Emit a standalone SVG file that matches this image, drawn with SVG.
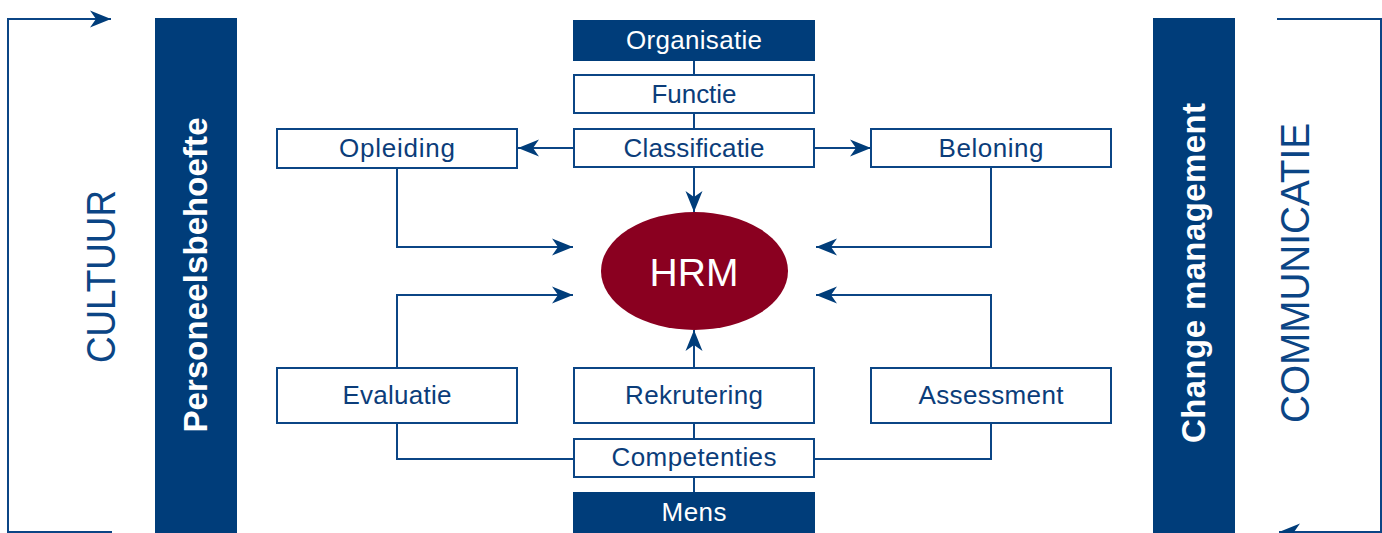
<svg xmlns="http://www.w3.org/2000/svg" width="1382" height="533" viewBox="0 0 1382 533">
<style>
.box{fill:#fff;stroke:#0b4585;stroke-width:2}
.dark{fill:#003d7a}
.lbl{font-family:"Liberation Sans",Arial,sans-serif;font-size:26px;fill:#0b3d7a;text-anchor:middle}
.wl{fill:#fff}
.ln{fill:none;stroke:#0b4585;stroke-width:2}
.side{font-family:"Liberation Sans",Arial,sans-serif;font-size:40px;fill:#0b4585;text-anchor:middle}
.bar{font-family:"Liberation Sans",Arial,sans-serif;font-size:33px;font-weight:bold;fill:#fff;text-anchor:middle}
</style>
<defs>
<marker id="ah" markerUnits="userSpaceOnUse" markerWidth="24" markerHeight="20" viewBox="-23 -10 24 20" refX="0" refY="0" orient="auto">
<path d="M0,0 L-21,-8.5 L-15,0 L-21,8.5 Z" fill="#003d7a"/>
</marker>
</defs>
<rect width="1382" height="533" fill="#fff"/>
<g id="connectors">
<path class="ln" d="M112,532 H8 V19 H111" marker-end="url(#ah)"/>
<path class="ln" d="M1277,19 H1381 V532 H1279" marker-end="url(#ah)"/>
<path class="ln" d="M694,61 V75"/>
<path class="ln" d="M694,113 V129"/>
<path class="ln" d="M694,167 V212" marker-end="url(#ah)"/>
<path class="ln" d="M574,148 H518" marker-end="url(#ah)"/>
<path class="ln" d="M814,148 H871" marker-end="url(#ah)"/>
<path class="ln" d="M397,168 V247 H573" marker-end="url(#ah)"/>
<path class="ln" d="M991,167 V247 H816" marker-end="url(#ah)"/>
<path class="ln" d="M397,368 V295 H573" marker-end="url(#ah)"/>
<path class="ln" d="M991,368 V295 H816" marker-end="url(#ah)"/>
<path class="ln" d="M694,368 V330" marker-end="url(#ah)"/>
<path class="ln" d="M694,439 V423"/>
<path class="ln" d="M694,492 V477"/>
<path class="ln" d="M397,423 V459 H574"/>
<path class="ln" d="M991,423 V459 H814"/>
</g>
<g id="cultuur"><text class="side" transform="translate(115,276.5) rotate(-90)" textLength="173" lengthAdjust="spacingAndGlyphs">CULTUUR</text></g>
<g id="communicatie"><text class="side" transform="translate(1309,273) rotate(-90)" textLength="300" lengthAdjust="spacingAndGlyphs">COMMUNICATIE</text></g>
<g id="personeelsbehoefte"><rect class="dark" x="155" y="18" width="82" height="515"/><text class="bar" transform="translate(207,275) rotate(-90)" textLength="315">Personeelsbehoefte</text></g>
<g id="change"><rect class="dark" x="1153" y="18" width="82" height="515"/><text class="bar" transform="translate(1205,273) rotate(-90)" textLength="340">Change management</text></g>
<g id="organisatie"><rect class="dark" x="573" y="20" width="242" height="41"/><text class="lbl wl" x="694" y="49" textLength="136">Organisatie</text></g>
<g id="functie"><rect class="box" x="574" y="75" width="240" height="38"/><text class="lbl" x="694" y="103" textLength="85">Functie</text></g>
<g id="classificatie"><rect class="box" x="574" y="129" width="240" height="38"/><text class="lbl" x="694" y="157" textLength="141">Classificatie</text></g>
<g id="opleiding"><rect class="box" x="277" y="129" width="240" height="39"/><text class="lbl" x="397" y="157" textLength="116">Opleiding</text></g>
<g id="beloning"><rect class="box" x="871" y="129" width="240" height="38"/><text class="lbl" x="991" y="157" textLength="105">Beloning</text></g>
<g id="hrm"><ellipse cx="694.5" cy="271" rx="93.5" ry="59" fill="#8a0020"/><text x="694" y="286" font-family="'Liberation Sans',Arial,sans-serif" font-size="39" fill="#fff" text-anchor="middle">HRM</text></g>
<g id="evaluatie"><rect class="box" x="277" y="368" width="240" height="55"/><text class="lbl" x="397" y="404" textLength="109">Evaluatie</text></g>
<g id="rekrutering"><rect class="box" x="574" y="368" width="240" height="55"/><text class="lbl" x="694" y="404" textLength="138">Rekrutering</text></g>
<g id="assessment"><rect class="box" x="871" y="368" width="240" height="55"/><text class="lbl" x="991" y="404" textLength="145">Assessment</text></g>
<g id="competenties"><rect class="box" x="574" y="439" width="240" height="38"/><text class="lbl" x="694" y="466" textLength="165">Competenties</text></g>
<g id="mens"><rect class="dark" x="573" y="492" width="242" height="45"/><text class="lbl wl" x="694" y="521" textLength="65">Mens</text></g>
</svg>
